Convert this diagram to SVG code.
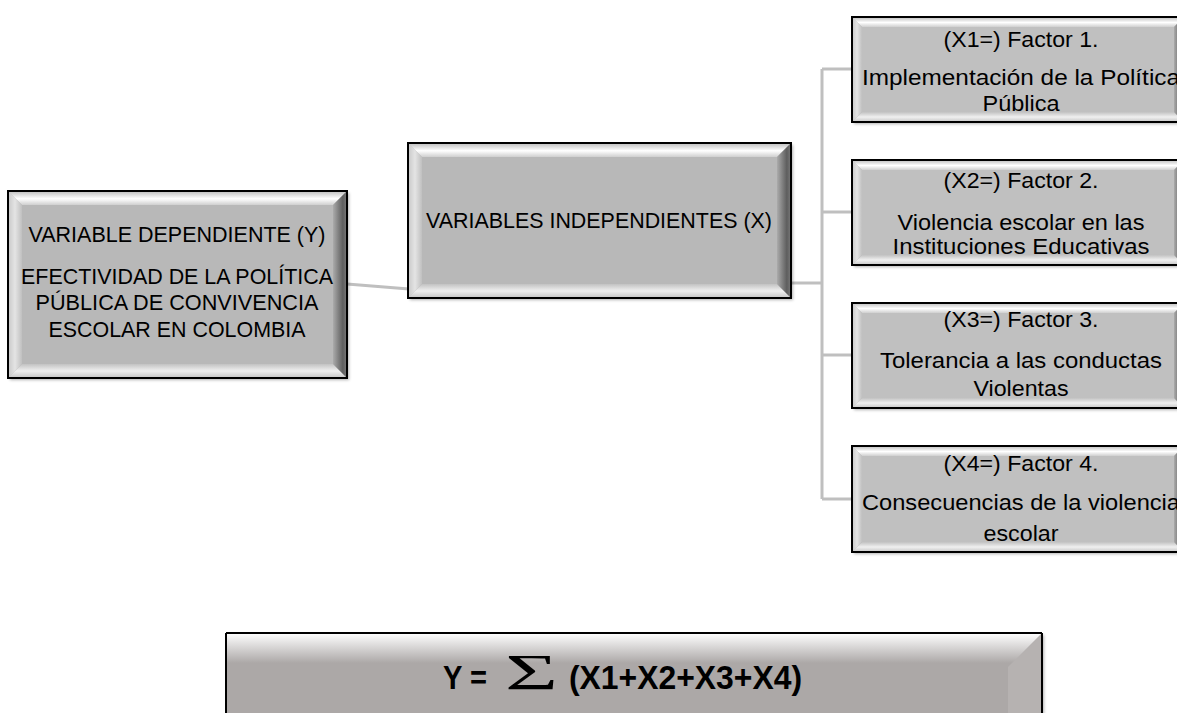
<svg xmlns="http://www.w3.org/2000/svg" width="1177" height="713" viewBox="0 0 1177 713">
  <defs>
    <linearGradient id="gT" x1="0" y1="0" x2="0" y2="1">
      <stop offset="0" stop-color="#BDBDBD"/>
      <stop offset="0.55" stop-color="#FFFFFF"/>
      <stop offset="1" stop-color="#CFCFCF"/>
    </linearGradient>
    <linearGradient id="gB" x1="0" y1="0" x2="0" y2="1">
      <stop offset="0" stop-color="#C2C2C2"/>
      <stop offset="0.5" stop-color="#F0F0F0"/>
      <stop offset="1" stop-color="#C6C6C6"/>
    </linearGradient>
    <linearGradient id="gL" x1="0" y1="0" x2="1" y2="0">
      <stop offset="0" stop-color="#C8C8C8"/>
      <stop offset="0.5" stop-color="#E4E4E4"/>
      <stop offset="1" stop-color="#C0C0C0"/>
    </linearGradient>
    <linearGradient id="gR" x1="0" y1="0" x2="1" y2="0">
      <stop offset="0" stop-color="#ABABAB"/>
      <stop offset="0.7" stop-color="#5E5E5E"/>
      <stop offset="1" stop-color="#7A7A7A"/>
    </linearGradient>
    <linearGradient id="fT" x1="0" y1="0" x2="0" y2="1">
      <stop offset="0" stop-color="#FFFFFF"/>
      <stop offset="1" stop-color="#ACA8A7"/>
    </linearGradient>
    <filter id="sh" x="-5%" y="-5%" width="115%" height="120%">
      <feDropShadow dx="2" dy="2" stdDeviation="1.5" flood-color="#000" flood-opacity="0.3"/>
    </filter>
  </defs>
  <style>
    .frame { fill: none; stroke: #000; stroke-width: 2; }
    .base { fill: #B8B8B8; filter: url(#sh); }
    .face { fill: #B8B8B8; }
    .faceF { fill: #C0C0C0; }
    .bt { fill: url(#gT); }
    .bb { fill: url(#gB); }
    .bl { fill: url(#gL); }
    .br { fill: url(#gR); }
    .t { font-family: "Liberation Sans", Arial, sans-serif; font-size: 21.4px; fill: #000; text-anchor: middle; }
    .tf { font-family: "Liberation Sans", Arial, sans-serif; font-size: 22px; fill: #000; text-anchor: middle; }
    .fb { font-family: "Liberation Sans", Arial, sans-serif; font-size: 34px; font-weight: bold; fill: #000; }
    .sig { font-family: "Liberation Serif", "Times New Roman", serif; font-size: 50px; fill: #000; }
    .conn { stroke: #BFBFBF; stroke-width: 3; fill: none; }
  </style>

  <g id="connectors">
    <path class="conn" d="M347,284 L409,289"/>
    <path class="conn" d="M791,283 L822,283"/>
    <path class="conn" d="M822,69 L822,499"/>
    <path class="conn" d="M822,69 L852,69"/>
    <path class="conn" d="M822,212 L852,212"/>
    <path class="conn" d="M822,355 L852,355"/>
    <path class="conn" d="M822,499 L852,499"/>
  </g>

  <!-- Y box: x=8 y=191 w=339 h=187 b=14 -->
  <g id="node-y">
    <rect class="base" x="8" y="191" width="339" height="187"/>
    <rect class="face" x="22" y="205" width="311" height="159"/>
    <path class="bt" d="M8,191 L347,191 L333,205 L22,205 Z"/>
    <path class="bb" d="M8,378 L347,378 L333,364 L22,364 Z"/>
    <path class="bl" d="M8,191 L22,205 L22,364 L8,378 Z"/>
    <path class="br" d="M347,191 L333,205 L333,364 L347,378 Z"/>
    <rect class="frame" x="8" y="191" width="339" height="187"/>
    <text class="t" x="177" y="242" textLength="297" lengthAdjust="spacingAndGlyphs">VARIABLE DEPENDIENTE (Y)</text>
    <text class="t" x="177" y="284" textLength="312" lengthAdjust="spacingAndGlyphs">EFECTIVIDAD DE LA POLÍTICA</text>
    <text class="t" x="177" y="310" textLength="283" lengthAdjust="spacingAndGlyphs">PÚBLICA DE CONVIVENCIA</text>
    <text class="t" x="177" y="337" textLength="257" lengthAdjust="spacingAndGlyphs">ESCOLAR EN COLOMBIA</text>
  </g>

  <!-- X box: x=408 y=143 w=383 h=155 b=14 -->
  <g id="node-x">
    <rect class="base" x="408" y="143" width="383" height="155"/>
    <rect class="face" x="422" y="157" width="355" height="127"/>
    <path class="bt" d="M408,143 L791,143 L777,157 L422,157 Z"/>
    <path class="bb" d="M408,298 L791,298 L777,284 L422,284 Z"/>
    <path class="bl" d="M408,143 L422,157 L422,284 L408,298 Z"/>
    <path class="br" d="M791,143 L777,157 L777,284 L791,298 Z"/>
    <rect class="frame" x="408" y="143" width="383" height="155"/>
    <text class="t" x="599" y="228" textLength="346" lengthAdjust="spacingAndGlyphs">VARIABLES INDEPENDIENTES (X)</text>
  </g>

  <!-- Factor boxes: x=852 w=332 h=105 b=10 -->
  <g id="node-f1">
    <rect class="base" x="852" y="17" width="332" height="105"/>
    <rect class="faceF" x="862" y="27" width="312" height="85"/>
    <path class="bt" d="M852,17 L1184,17 L1174,27 L862,27 Z"/>
    <path class="bb" d="M852,122 L1184,122 L1174,112 L862,112 Z"/>
    <path class="bl" d="M852,17 L862,27 L862,112 L852,122 Z"/>
    <path class="br" d="M1184,17 L1174,27 L1174,112 L1184,122 Z"/>
    <rect class="frame" x="852" y="17" width="332" height="105"/>
    <text class="tf" x="1021" y="47" textLength="155" lengthAdjust="spacingAndGlyphs">(X1=) Factor 1.</text>
    <text class="tf" x="1021" y="85" textLength="318" lengthAdjust="spacingAndGlyphs">Implementación de la Política</text>
    <text class="tf" x="1021" y="111" textLength="77" lengthAdjust="spacingAndGlyphs">Pública</text>
  </g>

  <g id="node-f2">
    <rect class="base" x="852" y="160" width="332" height="105"/>
    <rect class="faceF" x="862" y="170" width="312" height="85"/>
    <path class="bt" d="M852,160 L1184,160 L1174,170 L862,170 Z"/>
    <path class="bb" d="M852,265 L1184,265 L1174,255 L862,255 Z"/>
    <path class="bl" d="M852,160 L862,170 L862,255 L852,265 Z"/>
    <path class="br" d="M1184,160 L1174,170 L1174,255 L1184,265 Z"/>
    <rect class="frame" x="852" y="160" width="332" height="105"/>
    <text class="tf" x="1021" y="188" textLength="155" lengthAdjust="spacingAndGlyphs">(X2=) Factor 2.</text>
    <text class="tf" x="1021" y="230" textLength="247" lengthAdjust="spacingAndGlyphs">Violencia escolar en las</text>
    <text class="tf" x="1021" y="254" textLength="257" lengthAdjust="spacingAndGlyphs">Instituciones Educativas</text>
  </g>

  <g id="node-f3">
    <rect class="base" x="852" y="303" width="332" height="105"/>
    <rect class="faceF" x="862" y="313" width="312" height="85"/>
    <path class="bt" d="M852,303 L1184,303 L1174,313 L862,313 Z"/>
    <path class="bb" d="M852,408 L1184,408 L1174,398 L862,398 Z"/>
    <path class="bl" d="M852,303 L862,313 L862,398 L852,408 Z"/>
    <path class="br" d="M1184,303 L1174,313 L1174,398 L1184,408 Z"/>
    <rect class="frame" x="852" y="303" width="332" height="105"/>
    <text class="tf" x="1021" y="327" textLength="155" lengthAdjust="spacingAndGlyphs">(X3=) Factor 3.</text>
    <text class="tf" x="1021" y="368" textLength="282" lengthAdjust="spacingAndGlyphs">Tolerancia a las conductas</text>
    <text class="tf" x="1021" y="396" textLength="95" lengthAdjust="spacingAndGlyphs">Violentas</text>
  </g>

  <g id="node-f4">
    <rect class="base" x="852" y="446" width="332" height="106"/>
    <rect class="faceF" x="862" y="456" width="312" height="86"/>
    <path class="bt" d="M852,446 L1184,446 L1174,456 L862,456 Z"/>
    <path class="bb" d="M852,552 L1184,552 L1174,542 L862,542 Z"/>
    <path class="bl" d="M852,446 L862,456 L862,542 L852,552 Z"/>
    <path class="br" d="M1184,446 L1174,456 L1174,542 L1184,552 Z"/>
    <rect class="frame" x="852" y="446" width="332" height="106"/>
    <text class="tf" x="1021" y="471" textLength="155" lengthAdjust="spacingAndGlyphs">(X4=) Factor 4.</text>
    <text class="tf" x="1021" y="510" textLength="318" lengthAdjust="spacingAndGlyphs">Consecuencias de la violencia</text>
    <text class="tf" x="1021" y="541" textLength="75" lengthAdjust="spacingAndGlyphs">escolar</text>
  </g>

  <!-- Formula box -->
  <g id="node-formula">
    <rect x="226" y="633" width="816" height="100" fill="#ACA8A7" filter="url(#sh)"/>
    <rect x="226" y="633" width="816" height="30" fill="url(#fT)"/>
    <path d="M1042,633 L1008,667 L1008,733 L1042,733 Z" fill="#B6B2B1"/>
    <path d="M226,633 L1042,633 M226,633 L226,733 M1042,633 L1042,733" class="frame" stroke-width="3"/>
    <text class="fb" x="443" y="689" textLength="44" lengthAdjust="spacingAndGlyphs">Y =</text>
    <text class="sig" x="505" y="689" textLength="53" lengthAdjust="spacingAndGlyphs">Σ</text>
    <text class="fb" x="569" y="689" textLength="233" lengthAdjust="spacingAndGlyphs">(X1+X2+X3+X4)</text>
  </g>
</svg>
